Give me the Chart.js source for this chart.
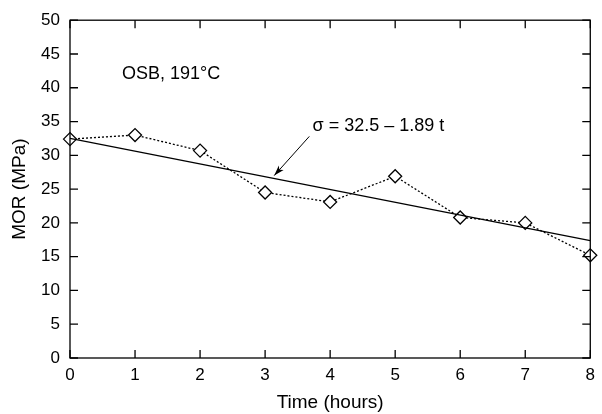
<!DOCTYPE html>
<html>
<head>
<meta charset="utf-8">
<script src="https://cdn.jsdelivr.net/npm/chart.js@4.4.1/dist/chart.umd.min.js"></script>
<style>
  html, body { margin: 0; padding: 0; background: #fff; }
  #wrap { width: 602px; height: 414px; }
</style>
</head>
<body>
<div id="wrap"><canvas id="chart"></canvas></div>
<script>
'use strict';

// ***** DATA *****
const hours = [0, 1, 2, 3, 4, 5, 6, 7, 8];
const morValues = [32.4, 33.0, 30.7, 24.5, 23.1, 26.9, 20.8, 20.0, 15.2];
const fitHours = [0, 8];
const fitValues = [32.5, 17.38];
const xTicks = [0, 1, 2, 3, 4, 5, 6, 7, 8];
const yTicks = [0, 5, 10, 15, 20, 25, 30, 35, 40, 45, 50];

const FONT = 'Liberation Sans, Arial, Helvetica, sans-serif';

// ***** PLUGINS *****
// inward ticks on all four sides + the text annotations
const framePlugin = {
  id: 'frame',
  afterDraw(chart) {
    const ctx = chart.ctx;
    const xs = chart.scales.x;
    const ys = chart.scales.y;
    const a = chart.chartArea;
    const len = 8;
    ctx.save();
    ctx.strokeStyle = '#000';
    ctx.lineWidth = 1.3;
    ctx.strokeRect(a.left, a.top, a.right - a.left, a.bottom - a.top);
    ctx.beginPath();
    xTicks.forEach(function (t) {
      let px = xs.getPixelForValue(t);
      ctx.moveTo(px, a.bottom); ctx.lineTo(px, a.bottom - len);
      ctx.moveTo(px, a.top); ctx.lineTo(px, a.top + len);
    });
    yTicks.forEach(function (t) {
      let py = ys.getPixelForValue(t);
      ctx.moveTo(a.left, py); ctx.lineTo(a.left + len, py);
      ctx.moveTo(a.right, py); ctx.lineTo(a.right - len, py);
    });
    ctx.stroke();

    // labels
    ctx.fillStyle = '#000';
    ctx.font = '18px ' + FONT;
    ctx.textBaseline = 'middle';
    ctx.textAlign = 'left';
    ctx.fillText('OSB, 191°C', xs.getPixelForValue(0.8), ys.getPixelForValue(42.0));
    ctx.fillText('σ = 32.5 – 1.89 t', xs.getPixelForValue(3.73), ys.getPixelForValue(34.4));

    // arrow
    let x1 = xs.getPixelForValue(3.68), y1 = ys.getPixelForValue(32.8);
    let x2 = xs.getPixelForValue(3.14), y2 = ys.getPixelForValue(27.0);
    ctx.lineWidth = 1;
    ctx.beginPath();
    ctx.moveTo(x1, y1);
    ctx.lineTo(x2, y2);
    ctx.stroke();
    let ang = Math.atan2(y2 - y1, x2 - x1);
    let hl = 11, hw = 0.3;
    ctx.beginPath();
    ctx.moveTo(x2, y2);
    ctx.lineTo(x2 - hl * Math.cos(ang - hw), y2 - hl * Math.sin(ang - hw));
    ctx.lineTo(x2 - hl * 0.7 * Math.cos(ang), y2 - hl * 0.7 * Math.sin(ang));
    ctx.lineTo(x2 - hl * Math.cos(ang + hw), y2 - hl * Math.sin(ang + hw));
    ctx.closePath();
    ctx.fill();
    ctx.restore();
  }
};

// ***** CHART *****
let ctx = document.getElementById('chart').getContext('2d');

new Chart(ctx, {
  type: 'scatter',
  data: {
    datasets: [
      {
        label: 'fit',
        data: fitHours.map(function (h, i) { return { x: h, y: fitValues[i] }; }),
        showLine: true,
        borderColor: '#000',
        borderWidth: 1.3,
        pointRadius: 0,
        clip: false
      },
      {
        label: 'MOR',
        data: hours.map(function (h, i) { return { x: h, y: morValues[i] }; }),
        showLine: true,
        borderColor: '#000',
        borderWidth: 1.3,
        borderDash: [2, 2],
        pointStyle: 'rectRot',
        pointRadius: 6.5,
        pointBorderWidth: 1.3,
        pointBackgroundColor: '#fff',
        pointBorderColor: '#000',
        clip: false
      }
    ]
  },
  options: {
    responsive: true,
    maintainAspectRatio: false,
    animation: false,
    layout: { padding: { left: 0, right: 5, top: 16, bottom: 0 } },
    plugins: {
      legend: { display: false },
      tooltip: { enabled: false }
    },
    scales: {
      x: {
        type: 'linear',
        min: 0,
        max: 8,
        afterFit(scale) { scale.height = 56; },
        afterBuildTicks(scale) { scale.ticks = xTicks.map(function (v) { return { value: v }; }); },
        grid: { display: false, drawTicks: false },
        border: { display: false },
        ticks: { color: '#000', font: { size: 17, family: FONT }, padding: 7, maxRotation: 0 },
        title: { display: true, text: 'Time (hours)', color: '#000', font: { size: 19, family: FONT }, padding: { top: 2, bottom: 0 } }
      },
      y: {
        min: 0,
        max: 50,
        afterFit(scale) { scale.width = 70; },
        afterBuildTicks(scale) { scale.ticks = yTicks.map(function (v) { return { value: v }; }); },
        grid: { display: false, drawTicks: false },
        border: { display: false },
        ticks: { color: '#000', font: { size: 17, family: FONT }, padding: 10 },
        title: { display: true, text: 'MOR (MPa)', color: '#000', font: { size: 19, family: FONT }, padding: { top: 8, bottom: 4 } }
      }
    }
  },
  plugins: [framePlugin]
});
</script>
</body>
</html>
